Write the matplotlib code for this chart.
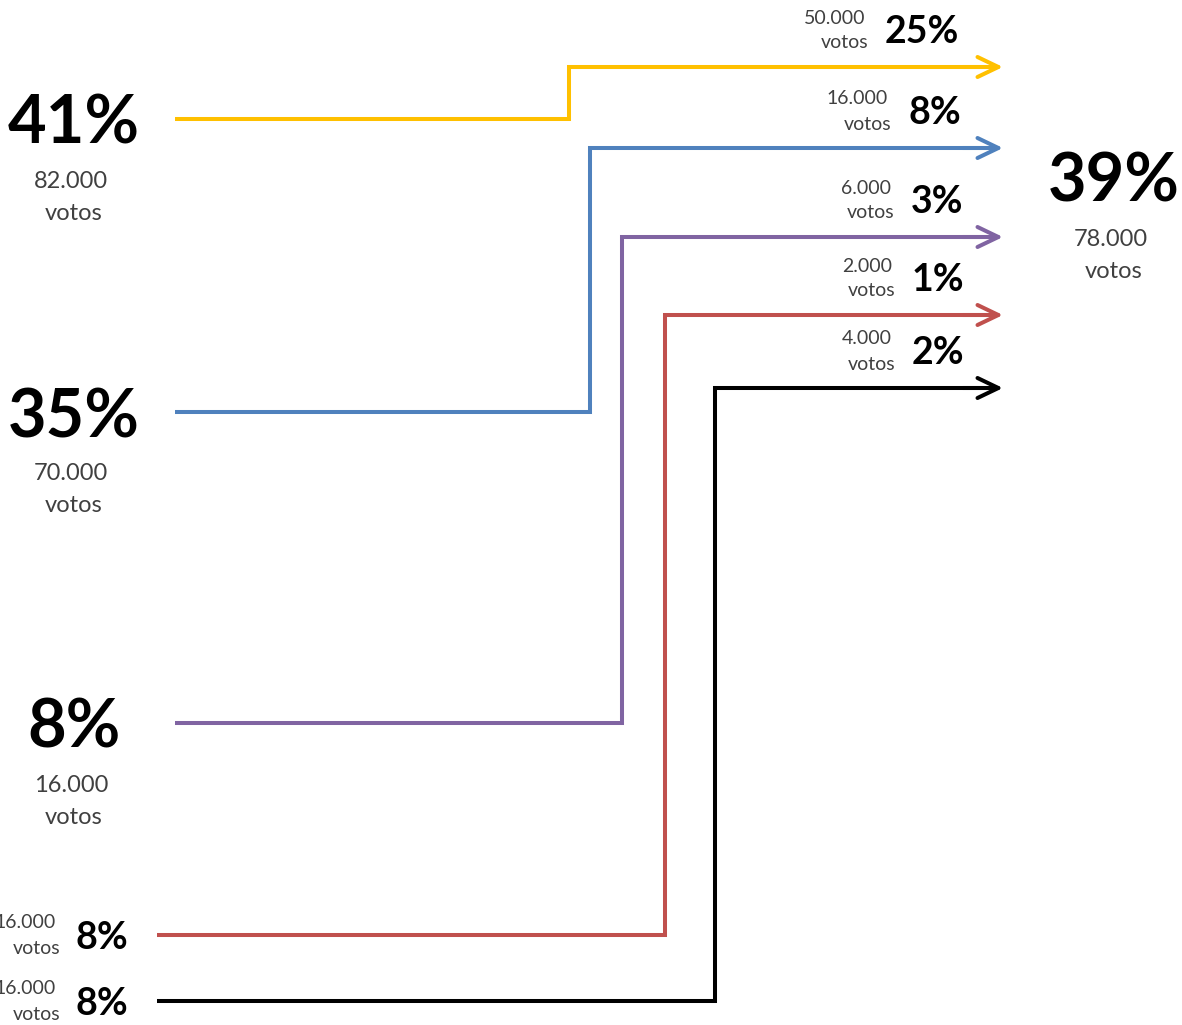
import matplotlib.pyplot as plt

plt.rcParams['font.family'] = ['Lato', 'DejaVu Sans']

# Data
left_pct = ['41%', '35%', '8%', '8%', '8%']
left_votes = ['82.000', '70.000', '16.000', '16.000', '16.000']
flow_pct = ['25%', '8%', '3%', '1%', '2%']
flow_votes = ['50.000', '16.000', '6.000', '2.000', '4.000']
total_pct = '39%'
total_votes = '78.000'
colors = ['#FFC000', '#4F81BD', '#8064A2', '#C0504D', '#000000']

# Layout (pixel coordinates of the canvas)
start_x = [175, 175, 175, 157, 157]
start_y = [119, 412, 723, 935, 1001]
turn_x = [569, 590, 622, 665, 715]
end_y = [67, 148, 237, 315, 388]
end_x = 1003
flow_pct_x = [885, 908, 911, 912, 912]
big_left = [True, True, True, False, False]

grey = '#404040'
lw = 2.9

fig = plt.figure(figsize=(11.82, 10.25), dpi=100)
ax = fig.add_axes([0, 0, 1, 1])
ax.set_xlim(0, 1182)
ax.set_ylim(1025, 0)
ax.axis('off')

for i in range(len(colors)):
    c = colors[i]
    # step line
    ax.plot([start_x[i], turn_x[i], turn_x[i], end_x - 12],
            [start_y[i], start_y[i], end_y[i], end_y[i]],
            color=c, lw=lw, solid_capstyle='butt', solid_joinstyle='miter')
    ax.annotate('', xy=(end_x, end_y[i]), xytext=(end_x - 40, end_y[i]),
                arrowprops=dict(arrowstyle='->, head_length=1.5, head_width=0.72',
                                color=c, lw=lw, shrinkA=0, shrinkB=0,
                                capstyle='round', joinstyle='round'))

    # flow labels at arrow end
    px = flow_pct_x[i]
    ax.text(px, end_y[i] - 35, flow_pct[i], fontsize=27, fontweight='bold',
            ha='left', va='center', color='black')
    ax.text(px - 20, end_y[i] - 49, flow_votes[i], fontsize=14,
            ha='right', va='center', color=grey)
    ax.text(px - 17, end_y[i] - 24, 'votos', fontsize=14,
            ha='right', va='center', color=grey)

    # origin labels
    if big_left[i]:
        ax.text(74, start_y[i] + 6, left_pct[i], fontsize=48, fontweight='bold',
                ha='center', va='center', color='black')
        ax.text(71, start_y[i] + 62, left_votes[i], fontsize=17,
                ha='center', va='center', color=grey)
        ax.text(74, start_y[i] + 94, 'votos', fontsize=17,
                ha='center', va='center', color=grey)
    else:
        ax.text(102, start_y[i] + 3, left_pct[i], fontsize=27, fontweight='bold',
                ha='center', va='center', color='black')
        ax.text(56, start_y[i] - 12, left_votes[i], fontsize=14,
                ha='right', va='center', color=grey)
        ax.text(60, start_y[i] + 14, 'votos', fontsize=14,
                ha='right', va='center', color=grey)

# destination total
ax.text(1114, 183, total_pct, fontsize=48, fontweight='bold',
        ha='center', va='center', color='black')
ax.text(1111, 239, total_votes, fontsize=17, ha='center', va='center', color=grey)
ax.text(1114, 271, 'votos', fontsize=17, ha='center', va='center', color=grey)

fig.savefig('out.png', dpi=100)
